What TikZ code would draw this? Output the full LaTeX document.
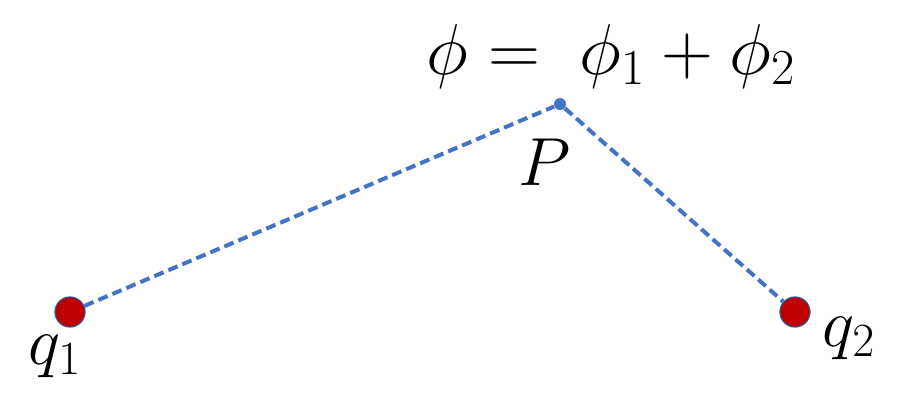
\RequirePackage{fix-cm}
\documentclass[tikz,border=0pt]{standalone}
\usepackage{amsmath}
\usepackage{tikz}
\usetikzlibrary{calc}
\definecolor{chargered}{RGB}{192,0,0}
\definecolor{lineblue}{RGB}{68,114,196}
\definecolor{rimblue}{RGB}{47,82,143}
\tikzset{
         charge/.style={circle,fill=chargered,draw=rimblue,line width=0.6pt,minimum size=15pt,inner sep=0pt},
         field point/.style={circle,fill=lineblue,minimum size=6pt,inner sep=0pt},
         dashline/.style={lineblue,line width=2pt,dash pattern=on 5pt off 2.6pt},
         big label/.style={inner sep=0pt,font=\fontsize{34}{40}\selectfont}
        }

\begin{document}
\begin{tikzpicture}[x=0.5pt,y=-0.5pt]
\useasboundingbox (0,0) rectangle (906,408); % frame
\node[charge] (q1) at (70,312) {}; % charge 1
\node[charge] (q2) at (795,312) {}; % charge 2
\node[field point] (P) at (560,104) {}; % point P
\draw[dashline] (q1)--(P)--(q2); % distances
\node[big label] (q1label) at (55,356) {$q_1$}; % q1 label
\node[big label] (q2label) at (849,338) {$q_2$}; % q2 label
\node[big label] (Plabel) at (545,162) {$P$}; % P label
\node[big label,anchor=base west,font=\fontsize{36}{42}\selectfont] (sum) at (426,74) {$\phi =\;\phi_1 + \phi_2$}; % superposition
\end{tikzpicture}
\end{document}
